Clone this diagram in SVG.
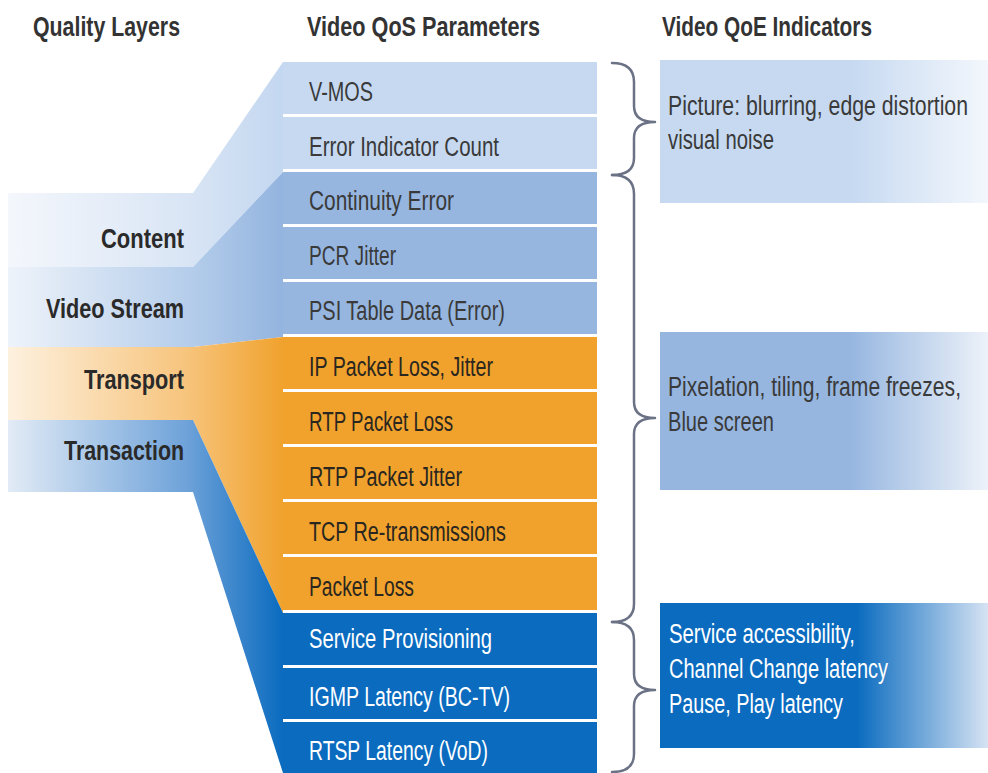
<svg xmlns="http://www.w3.org/2000/svg" width="988" height="773" viewBox="0 0 988 773">
  <defs>
    <style>
      .hdr { font-family: "Liberation Sans Narrow", "Liberation Sans", Arial, sans-serif; font-weight: bold; font-size: 27px; fill: #333333; }
      .lay { font-family: "Liberation Sans Narrow", "Liberation Sans", Arial, sans-serif; font-weight: bold; font-size: 27px; fill: #2a2a2a; text-anchor: end; }
      .prm { font-family: "Liberation Sans Narrow", "Liberation Sans", Arial, sans-serif; font-size: 27px; }
      .dark { fill: #3a3a3a; }
      .ink { fill: #2a2620; }
      .white { fill: #ffffff; }
      .light { fill: #c6d9f1; }
      .mid { fill: #96b6e0; }
      .orange { fill: #f0a22d; }
      .blue { fill: #0a6bbf; }
      .brace { fill: none; stroke: #6b7285; stroke-width: 2.5; stroke-linejoin: round; stroke-linecap: round; }
    </style>
    <linearGradient id="gContent" gradientUnits="userSpaceOnUse" x1="8" y1="0" x2="283" y2="0">
      <stop offset="0" stop-color="#f4f7fc"/>
      <stop offset="0.65" stop-color="#d9e5f5"/>
      <stop offset="1" stop-color="#c3d7f0"/>
    </linearGradient>
    <linearGradient id="gVideo" gradientUnits="userSpaceOnUse" x1="8" y1="0" x2="283" y2="0">
      <stop offset="0" stop-color="#eef3fa"/>
      <stop offset="0.65" stop-color="#b6ceeb"/>
      <stop offset="1" stop-color="#93b4df"/>
    </linearGradient>
    <linearGradient id="gTransport" gradientUnits="userSpaceOnUse" x1="8" y1="0" x2="283" y2="0">
      <stop offset="0" stop-color="#fdf1df"/>
      <stop offset="0.65" stop-color="#f7c47c"/>
      <stop offset="1" stop-color="#f0a22d"/>
    </linearGradient>
    <linearGradient id="gTransaction" gradientUnits="userSpaceOnUse" x1="8" y1="0" x2="283" y2="0">
      <stop offset="0" stop-color="#e2ebf6"/>
      <stop offset="0.65" stop-color="#6ea2d9"/>
      <stop offset="1" stop-color="#0a6bbf"/>
    </linearGradient>
    <linearGradient id="gBox1" gradientUnits="userSpaceOnUse" x1="660" y1="0" x2="988" y2="0">
      <stop offset="0" stop-color="#c6d9f1"/>
      <stop offset="0.58" stop-color="#c6d9f1"/>
      <stop offset="1" stop-color="#f3f7fc"/>
    </linearGradient>
    <linearGradient id="gBox2" gradientUnits="userSpaceOnUse" x1="660" y1="0" x2="988" y2="0">
      <stop offset="0" stop-color="#96b6e0"/>
      <stop offset="0.58" stop-color="#96b6e0"/>
      <stop offset="1" stop-color="#edf2f9"/>
    </linearGradient>
    <linearGradient id="gBox3" gradientUnits="userSpaceOnUse" x1="660" y1="0" x2="988" y2="0">
      <stop offset="0" stop-color="#0a6bbf"/>
      <stop offset="0.6" stop-color="#0a6bbf"/>
      <stop offset="1" stop-color="#d6e3f3"/>
    </linearGradient>
  </defs>

  <rect x="0" y="0" width="988" height="773" fill="#ffffff"/>

  <!-- column headings -->
  <g id="headings">
    <text class="hdr" x="33" y="36" textLength="147" lengthAdjust="spacingAndGlyphs">Quality Layers</text>
    <text class="hdr" x="307" y="36" textLength="233" lengthAdjust="spacingAndGlyphs">Video QoS Parameters</text>
    <text class="hdr" x="662" y="36" textLength="210" lengthAdjust="spacingAndGlyphs">Video QoE Indicators</text>
  </g>

  <!-- quality layers: band plus funnel into the parameter rows -->
  <g id="layer-content">
    <polygon fill="url(#gContent)" points="8,193 193,193 283,62 283,172 193,267 8,267"/>
    <text class="lay" x="184" y="248" textLength="83" lengthAdjust="spacingAndGlyphs">Content</text>
  </g>
  <g id="layer-video-stream">
    <polygon fill="url(#gVideo)" points="8,267 193,267 283,172 283,337 193,347 8,347"/>
    <text class="lay" x="184" y="318" textLength="138" lengthAdjust="spacingAndGlyphs">Video Stream</text>
  </g>
  <g id="layer-transport">
    <polygon fill="url(#gTransport)" points="8,347 193,347 283,337 283,613 193,420 8,420"/>
    <text class="lay" x="184" y="389" textLength="100" lengthAdjust="spacingAndGlyphs">Transport</text>
  </g>
  <g id="layer-transaction">
    <polygon fill="url(#gTransaction)" points="8,420 193,420 283,613 283,773 193,492 8,492"/>
    <text class="lay" x="184" y="460" textLength="120" lengthAdjust="spacingAndGlyphs">Transaction</text>
  </g>

  <!-- QoS parameter rows -->
  <g id="p-vmos"><rect class="light" x="283" y="62" width="314" height="52"/><text class="prm dark" x="309" y="101" textLength="64" lengthAdjust="spacingAndGlyphs">V-MOS</text></g>
  <g id="p-error-indicator"><rect class="light" x="283" y="117" width="314" height="52"/><text class="prm dark" x="309" y="156" textLength="190" lengthAdjust="spacingAndGlyphs">Error Indicator Count</text></g>
  <g id="p-continuity"><rect class="mid" x="283" y="172" width="314" height="52"/><text class="prm dark" x="309" y="210" textLength="145" lengthAdjust="spacingAndGlyphs">Continuity Error</text></g>
  <g id="p-pcr-jitter"><rect class="mid" x="283" y="227" width="314" height="52"/><text class="prm dark" x="309" y="265" textLength="87" lengthAdjust="spacingAndGlyphs">PCR Jitter</text></g>
  <g id="p-psi-table"><rect class="mid" x="283" y="282" width="314" height="52"/><text class="prm dark" x="309" y="320" textLength="196" lengthAdjust="spacingAndGlyphs">PSI Table Data (Error)</text></g>
  <g id="p-ip-loss"><rect class="orange" x="283" y="337" width="314" height="52"/><text class="prm ink" x="309" y="376" textLength="184" lengthAdjust="spacingAndGlyphs">IP Packet Loss, Jitter</text></g>
  <g id="p-rtp-loss"><rect class="orange" x="283" y="392" width="314" height="52"/><text class="prm ink" x="309" y="431" textLength="144" lengthAdjust="spacingAndGlyphs">RTP Packet Loss</text></g>
  <g id="p-rtp-jitter"><rect class="orange" x="283" y="447" width="314" height="52"/><text class="prm ink" x="309" y="486" textLength="153" lengthAdjust="spacingAndGlyphs">RTP Packet Jitter</text></g>
  <g id="p-tcp-retx"><rect class="orange" x="283" y="502" width="314" height="52"/><text class="prm ink" x="309" y="541" textLength="197" lengthAdjust="spacingAndGlyphs">TCP Re-transmissions</text></g>
  <g id="p-packet-loss"><rect class="orange" x="283" y="557" width="314" height="53"/><text class="prm ink" x="309" y="596" textLength="105" lengthAdjust="spacingAndGlyphs">Packet Loss</text></g>
  <g id="p-service-prov"><rect class="blue" x="283" y="613" width="314" height="52"/><text class="prm white" x="309" y="648" textLength="183" lengthAdjust="spacingAndGlyphs">Service Provisioning</text></g>
  <g id="p-igmp"><rect class="blue" x="283" y="668" width="314" height="51"/><text class="prm white" x="309" y="706" textLength="201" lengthAdjust="spacingAndGlyphs">IGMP Latency (BC-TV)</text></g>
  <g id="p-rtsp"><rect class="blue" x="283" y="722" width="314" height="51"/><text class="prm white" x="309" y="760" textLength="179" lengthAdjust="spacingAndGlyphs">RTSP Latency (VoD)</text></g>

  <!-- QoE indicator boxes -->
  <g id="qoe-picture">
    <rect x="660" y="60" width="328" height="143" fill="url(#gBox1)"/>
    <text class="prm dark" x="668" y="115" textLength="300" lengthAdjust="spacingAndGlyphs">Picture: blurring, edge distortion</text>
    <text class="prm dark" x="668" y="149" textLength="106" lengthAdjust="spacingAndGlyphs">visual noise</text>
  </g>
  <g id="qoe-pixelation">
    <rect x="660" y="332" width="328" height="158" fill="url(#gBox2)"/>
    <text class="prm dark" x="668" y="396" textLength="293" lengthAdjust="spacingAndGlyphs">Pixelation, tiling, frame freezes,</text>
    <text class="prm dark" x="668" y="431" textLength="106" lengthAdjust="spacingAndGlyphs">Blue screen</text>
  </g>
  <g id="qoe-service">
    <rect x="660" y="603" width="328" height="145" fill="url(#gBox3)"/>
    <text class="prm white" x="669" y="643" textLength="186" lengthAdjust="spacingAndGlyphs">Service accessibility,</text>
    <text class="prm white" x="669" y="678" textLength="219" lengthAdjust="spacingAndGlyphs">Channel Change latency</text>
    <text class="prm white" x="669" y="713" textLength="174" lengthAdjust="spacingAndGlyphs">Pause, Play latency</text>
  </g>

  <!-- braces linking parameter groups to indicators -->
  <g id="connectors">
    <path class="brace" d="M612,63 Q634,63 634,82 L634,106 Q634,122 655,122 Q634,122 634,138 L634,158 Q634,175 612,175"/>
    <path class="brace" d="M612,175 Q634,175 634,194 L634,402 Q634,418 655,418 Q634,418 634,434 L634,604 Q634,622 612,622"/>
    <path class="brace" d="M612,622 Q634,622 634,640 L634,674 Q634,690 655,690 Q634,690 634,706 L634,754 Q634,772 612,772"/>
  </g>
</svg>
